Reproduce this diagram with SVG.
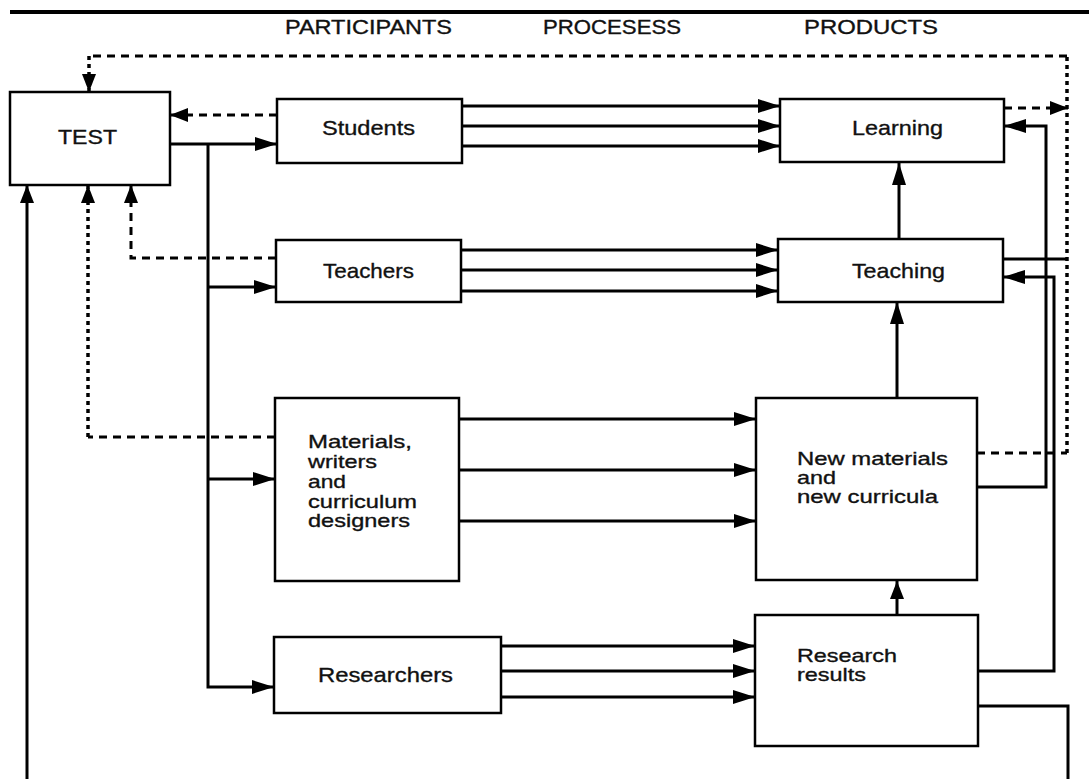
<svg xmlns="http://www.w3.org/2000/svg" width="1089" height="779" viewBox="0 0 1089 779">
<style>
  .box { fill: #fff; stroke: #000; stroke-width: 2.5; }
  .lbl { font-family: "Liberation Sans", Arial, sans-serif; font-size: 21px; fill: #111; stroke: #111; stroke-width: 0.35; }
  .sm { font-size: 19px; }
  .hdr { font-family: "Liberation Sans", Arial, sans-serif; font-size: 20px; fill: #111; stroke: #111; stroke-width: 0.35; }
  .c { fill: none; stroke: #000; stroke-width: 3; }
  .dash { fill: none; stroke: #000; stroke-width: 3; stroke-dasharray: 8 6; }
  .dot { fill: none; stroke: #000; stroke-width: 3.5; stroke-dasharray: 4 4; }
</style>
<defs>
  <marker id="ah" markerUnits="userSpaceOnUse" markerWidth="22" markerHeight="14" refX="22" refY="7" orient="auto">
    <path d="M0,0 L22,7 L0,14 z" fill="#000"/>
  </marker>
  <marker id="ahs" markerUnits="userSpaceOnUse" markerWidth="18" markerHeight="14" refX="18" refY="7" orient="auto">
    <path d="M0,0 L18,7 L0,14 z" fill="#000"/>
  </marker>
</defs>
<rect width="1089" height="779" fill="#fff"/>
<path d="M10,12 H1089" stroke="#000" stroke-width="4"/>

<g id="headers">
  <text class="hdr" x="285" y="34" textLength="167" lengthAdjust="spacingAndGlyphs">PARTICIPANTS</text>
  <text class="hdr" x="543" y="34" textLength="138" lengthAdjust="spacingAndGlyphs">PROCESESS</text>
  <text class="hdr" x="804" y="34" textLength="134" lengthAdjust="spacingAndGlyphs">PRODUCTS</text>
</g>

<g id="connectors">
  <!-- solid -->
  <path class="c" d="M170,144 H277" marker-end="url(#ah)"/>
  <path class="c" d="M208,144 V687 H274" stroke-width="3.5" marker-end="url(#ah)"/>
  <path class="c" d="M208,287 H276" marker-end="url(#ah)"/>
  <path class="c" d="M208,479 H275" marker-end="url(#ah)"/>
  <path class="c" d="M462,106 H780" marker-end="url(#ah)"/>
  <path class="c" d="M462,126 H780" marker-end="url(#ah)"/>
  <path class="c" d="M462,146 H780" marker-end="url(#ah)"/>
  <path class="c" d="M461,250 H778" marker-end="url(#ah)"/>
  <path class="c" d="M461,270 H778" marker-end="url(#ah)"/>
  <path class="c" d="M461,291 H778" marker-end="url(#ah)"/>
  <path class="c" d="M459,419 H756" marker-end="url(#ah)"/>
  <path class="c" d="M459,470 H756" marker-end="url(#ah)"/>
  <path class="c" d="M459,521 H756" marker-end="url(#ah)"/>
  <path class="c" d="M501,646 H755" marker-end="url(#ah)"/>
  <path class="c" d="M501,671 H755" marker-end="url(#ah)"/>
  <path class="c" d="M501,697 H755" marker-end="url(#ah)"/>
  <path class="c" d="M899,239 V163" stroke-width="3.5" marker-end="url(#ah)"/>
  <path class="c" d="M897,398 V302" stroke-width="3.5" marker-end="url(#ah)"/>
  <path class="c" d="M897,615 V581" stroke-width="3.5" marker-end="url(#ahs)"/>
  <path class="c" d="M977,487 H1046 V126 H1004" marker-end="url(#ah)"/>
  <path class="c" d="M978,671 H1054 V277 H1003" marker-end="url(#ah)"/>
  <path class="c" d="M978,706 H1068 V779"/>
  <path class="c" d="M1003,259 H1068" stroke-width="2.5"/>
  <path class="c" d="M27,779 V185" stroke-width="3.5" marker-end="url(#ahs)"/>
  <!-- dashed / dotted -->
  <path class="dash" d="M277,115 H170" marker-end="url(#ahs)"/>
  <path class="dash" d="M276,258 H131 V185" marker-end="url(#ahs)"/>
  <path class="dash" d="M275,437 H88"/>
  <path class="dot" d="M88,437 V185" marker-end="url(#ahs)"/>
  <path class="dash" d="M1004,108 H1068" marker-end="url(#ahs)"/>
  <path class="dash" d="M977,453 H1067"/>
  <path class="dot" d="M1067,453 V56"/>
  <path class="dash" d="M1067,56 H89"/>
  <path class="dot" d="M89,56 V92" marker-end="url(#ahs)"/>
</g>

<g id="test">
  <rect class="box" x="10" y="92" width="160" height="93"/>
  <text class="lbl" x="58" y="144" textLength="59" lengthAdjust="spacingAndGlyphs">TEST</text>
</g>
<g id="students">
  <rect class="box" x="277" y="99" width="185" height="64"/>
  <text class="lbl" x="322" y="135" textLength="93" lengthAdjust="spacingAndGlyphs">Students</text>
</g>
<g id="teachers">
  <rect class="box" x="276" y="240" width="185" height="62"/>
  <text class="lbl" x="323" y="278" textLength="91" lengthAdjust="spacingAndGlyphs">Teachers</text>
</g>
<g id="materials">
  <rect class="box" x="275" y="398" width="184" height="183"/>
  <text class="lbl sm" x="308" y="448" textLength="104" lengthAdjust="spacingAndGlyphs">Materials,</text>
  <text class="lbl sm" x="308" y="468" textLength="69" lengthAdjust="spacingAndGlyphs">writers</text>
  <text class="lbl sm" x="308" y="488" textLength="38" lengthAdjust="spacingAndGlyphs">and</text>
  <text class="lbl sm" x="308" y="508" textLength="109" lengthAdjust="spacingAndGlyphs">curriculum</text>
  <text class="lbl sm" x="308" y="527" textLength="102" lengthAdjust="spacingAndGlyphs">designers</text>
</g>
<g id="researchers">
  <rect class="box" x="274" y="637" width="227" height="76"/>
  <text class="lbl" x="318" y="682" textLength="135" lengthAdjust="spacingAndGlyphs">Researchers</text>
</g>
<g id="learning">
  <rect class="box" x="780" y="99" width="224" height="63"/>
  <text class="lbl" x="852" y="135" textLength="91" lengthAdjust="spacingAndGlyphs">Learning</text>
</g>
<g id="teaching">
  <rect class="box" x="778" y="239" width="225" height="63"/>
  <text class="lbl" x="852" y="278" textLength="93" lengthAdjust="spacingAndGlyphs">Teaching</text>
</g>
<g id="new-materials">
  <rect class="box" x="756" y="398" width="221" height="182"/>
  <text class="lbl sm" x="797" y="465" textLength="151" lengthAdjust="spacingAndGlyphs">New materials</text>
  <text class="lbl sm" x="797" y="484" textLength="39" lengthAdjust="spacingAndGlyphs">and</text>
  <text class="lbl sm" x="797" y="503" textLength="141" lengthAdjust="spacingAndGlyphs">new curricula</text>
</g>
<g id="research-results">
  <rect class="box" x="755" y="615" width="223" height="131"/>
  <text class="lbl sm" x="797" y="662" textLength="100" lengthAdjust="spacingAndGlyphs">Research</text>
  <text class="lbl sm" x="797" y="681" textLength="69" lengthAdjust="spacingAndGlyphs">results</text>
</g>
</svg>
